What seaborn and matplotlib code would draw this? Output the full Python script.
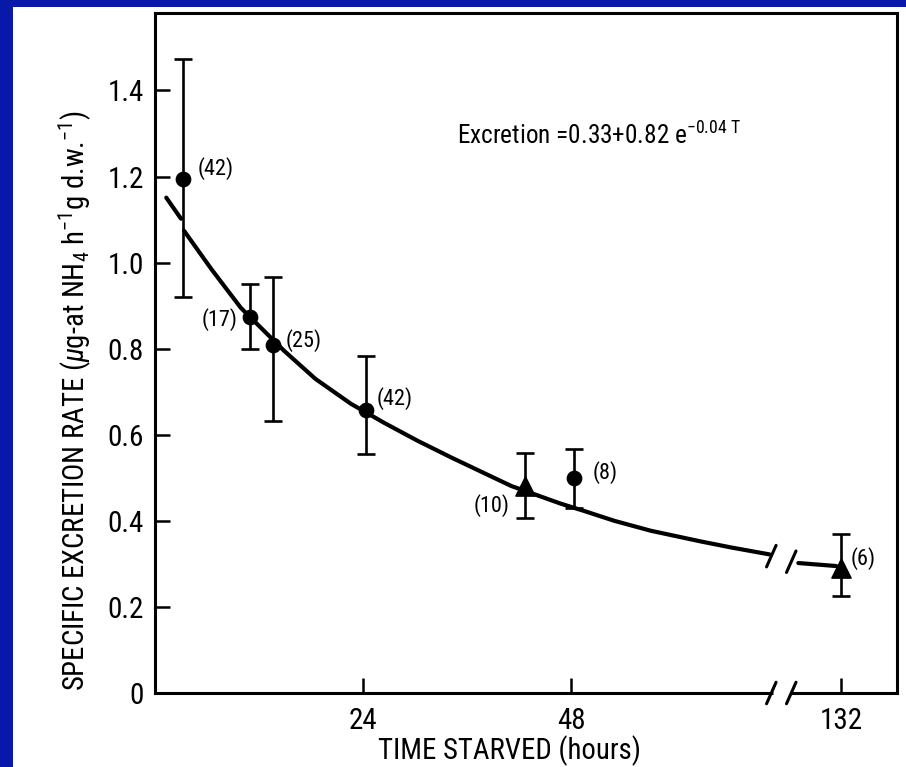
import numpy as np
import pandas as pd
import matplotlib
matplotlib.use("Agg")
import matplotlib.pyplot as plt
from matplotlib import font_manager as fm
from matplotlib.patches import Rectangle
import seaborn as sns

# ---------------- data ----------------
hours = [3.2, 11.0, 13.6, 24.3, 42.7, 48.3, 132.0]
rate = [1.195, 0.874, 0.809, 0.658, 0.481, 0.500, 0.291]
err_hi = [1.472, 0.951, 0.966, 0.782, 0.558, 0.567, 0.370]
err_lo = [0.919, 0.800, 0.633, 0.555, 0.407, 0.430, 0.226]
n_labels = ["(42)", "(17)", "(25)", "(42)", "(10)", "(8)", "(6)"]
marker_kind = ["circle", "circle", "circle", "circle", "triangle", "circle", "triangle"]

# fitted curve (hours, rate); segments drawn separately
curve_hours = [1.3, 3.0,
               3.35, 6.5, 9.9, 14.9, 18.5, 22.6, 26.5, 30.3, 34.2, 41.1, 46.8, 49.5, 53.0,
               57.2, 63.0, 66.5, 70.9,
               121.7, 130.8]
curve_rate = [1.151, 1.102,
              1.074, 0.985, 0.895, 0.795, 0.730, 0.672, 0.627, 0.586, 0.547, 0.481, 0.440,
              0.423, 0.400, 0.377, 0.352, 0.338, 0.322,
              0.302, 0.295]
curve_segment = [0, 0,
                 1, 1, 1, 1, 1, 1, 1, 1, 1, 1, 1, 1, 1, 1, 1, 1, 1,
                 2, 2]

x_ticks = [24, 48, 132]
x_tick_labels = ["24", "48", "132"]
y_ticks = [0, 0.2, 0.4, 0.6, 0.8, 1.0, 1.2, 1.4]
y_tick_labels = ["0", "0.2", "0.4", "0.6", "0.8", "1.0", "1.2", "1.4"]

# ---------------- broken time axis ----------------
BREAK_A, BREAK_B = 71.1, 73.4      # axis positions of the two break slashes
RESUME_HOURS = 120.0
POST_SCALE = 0.48


def to_axis(h):
    h = np.asarray(h, dtype=float)
    return np.where(h <= 75, h, BREAK_B + (h - RESUME_HOURS) * POST_SCALE)


# ---------------- fonts / style ----------------
sns.set_theme(style="ticks")
names = {f.name for f in fm.fontManager.ttflist}
FONT = "Liberation Sans"
for cand in ["Roboto Condensed", "Archivo Narrow", "PT Sans Narrow", "Liberation Sans Narrow",
             "Open Sans Condensed", "Liberation Sans"]:
    if cand in names:
        FONT = cand
        break
plt.rcParams["font.family"] = [FONT, "DejaVu Sans"]
plt.rcParams["mathtext.fontset"] = "custom"
plt.rcParams["mathtext.rm"] = FONT
plt.rcParams["mathtext.it"] = FONT + ":italic"
plt.rcParams["mathtext.bf"] = FONT + ":bold"

fig = plt.figure(figsize=(9.06, 7.67), dpi=100, facecolor="white")
ax = fig.add_axes([155 / 906, 74 / 767, 742 / 906, 680 / 767])
ax.set_facecolor("white")

pts = pd.DataFrame({
    "pos": to_axis(hours),
    "rate": rate,
    "lo": err_lo,
    "hi": err_hi,
    "label": n_labels,
    "kind": marker_kind,
})
curve = pd.DataFrame({
    "pos": to_axis(curve_hours),
    "rate": curve_rate,
    "segment": curve_segment,
})

# curve
sns.lineplot(data=curve, x="pos", y="rate", units="segment", estimator=None,
             sort=False, color="black", linewidth=3.0, ax=ax, legend=False)

# error bars
ax.errorbar(pts["pos"], pts["rate"],
            yerr=[pts["rate"] - pts["lo"], pts["hi"] - pts["rate"]],
            fmt="none", ecolor="black", elinewidth=1.9, capsize=6.5, capthick=1.9, zorder=3)

# markers
circ = pts[pts["kind"] == "circle"]
tri = pts[pts["kind"] == "triangle"]
sns.scatterplot(data=circ, x="pos", y="rate", marker="o", s=110, color="black",
                edgecolor="black", ax=ax, zorder=4, legend=False)
sns.scatterplot(data=tri, x="pos", y="rate", marker="^", s=190, color="black",
                edgecolor="black", ax=ax, zorder=4, legend=False)

# sample-size labels (offsets in points)
label_offsets = [(11, 7), (-9, -2), (9, 3), (8, 8), (-11, -14), (14, 4), (7, 7)]
label_ha = ["left", "right", "left", "left", "right", "left", "left"]
for (_, r), off, ha in zip(pts.iterrows(), label_offsets, label_ha):
    ax.annotate(r["label"], (r["pos"], r["rate"]), xytext=off, textcoords="offset points",
                ha=ha, va="center", fontsize=16, color="black")

# axes
ax.set_xlim(0, 85.6)
ax.set_ylim(0, 1.58)
ax.set_xticks(to_axis(x_ticks))
ax.set_xticklabels(x_tick_labels)
ax.set_yticks(y_ticks)
ax.set_yticklabels(y_tick_labels)
ax.tick_params(axis="both", direction="in", length=11, width=1.8, labelsize=21,
               color="black", labelcolor="black", pad=8)
ax.tick_params(axis="x", pad=10)
for s in ax.spines.values():
    s.set_visible(True)
    s.set_linewidth(2.2)
    s.set_color("black")

xl = ax.set_xlabel("TIME STARVED (hours)", fontsize=20, color="black")
ax.xaxis.set_label_coords(0.478, -0.062)
yl = ax.set_ylabel(r"SPECIFIC EXCRETION RATE ($\mu$g-at NH$_4$ h$^{-1}$g d.w.$^{-1}$)",
                   fontsize=20, color="black")
ax.yaxis.set_label_coords(-0.082, 0.43)

# equation
eq = ax.text(0.407, 0.808, r"Excretion =0.33+0.82 e$^{-0.04\ \mathrm{T}}$",
             transform=ax.transAxes, fontsize=20, color="black", ha="left", va="baseline")


# fit text sizes to the measured extents of the reference
def fit(artist, target, use_height=False):
    for _ in range(3):
        fig.canvas.draw()
        bb = artist.get_window_extent()
        cur = bb.height if use_height else bb.width
        if cur > 0:
            artist.set_fontsize(artist.get_fontsize() * target / cur)


fit(xl, 262)
fit(yl, 580, use_height=True)
fit(eq, 285)

# axis break on x-axis: blank the gap, draw slashes
ax.plot([BREAK_A + 0.15, BREAK_B - 0.15], [0, 0], color="white", linewidth=5,
        clip_on=False, zorder=5, solid_capstyle="butt")
for bx in (BREAK_A, BREAK_B):
    ax.plot([bx - 0.55, bx + 0.55], [-0.025, 0.025], color="black", linewidth=2.2,
            clip_on=False, zorder=6)
# break slashes on the curve
for bx, by in ((BREAK_A, 0.318), (BREAK_B, 0.305)):
    ax.plot([bx - 0.55, bx + 0.55], [by - 0.025, by + 0.025], color="black", linewidth=2.2,
            zorder=6)

# blue slide border (left and top)
fig.patches.append(Rectangle((0, 0), 13 / 906, 1, transform=fig.transFigure,
                             facecolor="#0818A8", edgecolor="none", zorder=10))
fig.patches.append(Rectangle((0, 1 - 7 / 767), 1, 7 / 767, transform=fig.transFigure,
                             facecolor="#0818A8", edgecolor="none", zorder=10))

fig.savefig("out.png", dpi=100, facecolor="white")
